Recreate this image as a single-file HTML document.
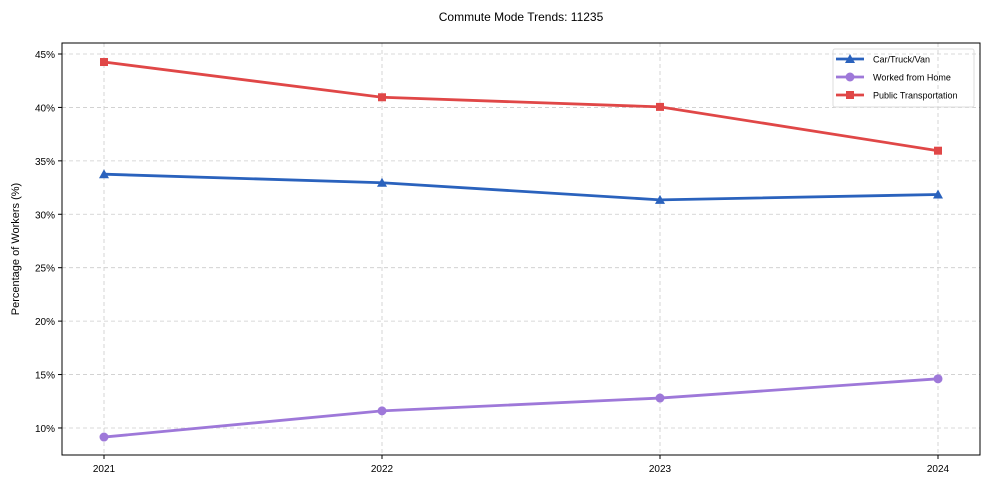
<!DOCTYPE html>
<html><head><meta charset="utf-8"><style>
body{margin:0;background:#fff;font-family:"Liberation Sans",Arial,sans-serif;}
svg text{font-family:"Liberation Sans",Arial,sans-serif;}
</style></head><body>
<svg id="chart" width="990" height="490" xmlns="http://www.w3.org/2000/svg">
<text x="521" y="21" text-anchor="middle" font-size="12" fill="#000">Commute Mode Trends: 11235</text>
<g id="grid"></g>
<rect x="62" y="43" width="918" height="412" fill="none" stroke="#000" stroke-width="1"/>
<g id="axes"></g>
<text transform="translate(19,249) rotate(-90)" text-anchor="middle" font-size="11">Percentage of Workers (%)</text>
<g id="series"></g>
<g id="legend"></g>
</svg>
<script>
const years=["2021","2022","2023","2024"];
const car=[33.75,32.95,31.35,31.85];
const wfh=[9.15,11.6,12.8,14.6];
const pt=[44.25,40.95,40.05,35.95];
const yTicks=[10,15,20,25,30,35,40,45];
const yTickLabels=["10%","15%","20%","25%","30%","35%","40%","45%"];
const NS="http://www.w3.org/2000/svg";
const L=62,R=980,T=43,B=455,yMin=7.47,yMax=46.03;
const x=i=>104+i*(938-104)/(years.length-1);
const y=v=>B-(v-yMin)/(yMax-yMin)*(B-T);
function mk(tag,attrs,parent){const e=document.createElementNS(NS,tag);for(const k in attrs)e.setAttribute(k,attrs[k]);parent.appendChild(e);return e;}
const grid=document.getElementById('grid'),axes=document.getElementById('axes'),series=document.getElementById('series'),legend=document.getElementById('legend');
yTicks.forEach((t,i)=>{
 const g=mk('line',{x1:L,x2:R,y1:y(t),y2:y(t),stroke:'#ccc','stroke-dasharray':'4,3','stroke-width':0.8},grid);
 
 
 mk('line',{x1:L-4,x2:L,y1:y(t),y2:y(t),stroke:'#000'},axes);
 const tx=mk('text',{x:L-7,y:y(t)+4,'text-anchor':'end','font-size':10},axes);tx.textContent=yTickLabels[i];
 
 
});
years.forEach((yr,i)=>{
 const g=mk('line',{x1:x(i),x2:x(i),y1:T,y2:B,stroke:'#ccc','stroke-dasharray':'4,3','stroke-width':0.8},grid);
 
 
 mk('line',{x1:x(i),x2:x(i),y1:B,y2:B+4,stroke:'#000'},axes);
 const tx=mk('text',{x:x(i),y:B+17,'text-anchor':'middle','font-size':10},axes);tx.textContent=yr;
 
 
});
function marker(type,cx,cy,color,parent){
 if(type==='tri')return mk('polygon',{points:`${cx},${cy-5} ${cx-5},${cy+4} ${cx+5},${cy+4}`,fill:color},parent);
 if(type==='circ')return mk('circle',{cx:cx,cy:cy,r:4.5,fill:color},parent);
 return mk('rect',{x:cx-4,y:cy-4,width:8,height:8,fill:color},parent);
}
const defs=[{name:'Car/Truck/Van',vals:car,color:'#2a62bd',m:'tri',key:'car'},{name:'Worked from Home',vals:wfh,color:'#9e78d9',m:'circ',key:'wfh'},{name:'Public Transportation',vals:pt,color:'#e04747',m:'sq',key:'pt'}];
defs.forEach((d,si)=>{
 const p=mk('polyline',{points:d.vals.map((v,i)=>x(i)+','+y(v)).join(' '),fill:'none',stroke:d.color,'stroke-width':2.8},series);
 
 
 d.vals.forEach((v,i)=>{const m=marker(d.m,x(i),y(v),d.color,series);
  
  });
 const ly=59+si*18;
 const ll=mk('line',{x1:836,x2:864,y1:ly,y2:ly,stroke:d.color,'stroke-width':2.8},legend);
 
 
 marker(d.m,850,ly,d.color,legend);
 const t=mk('text',{x:873,y:ly+3.5,'font-size':9},legend);t.textContent=d.name;
 
 
});
const box=mk('rect',{x:833,y:49,width:141,height:58,rx:2,fill:'none',stroke:'#ddd'},legend);


</script>
</body></html>
